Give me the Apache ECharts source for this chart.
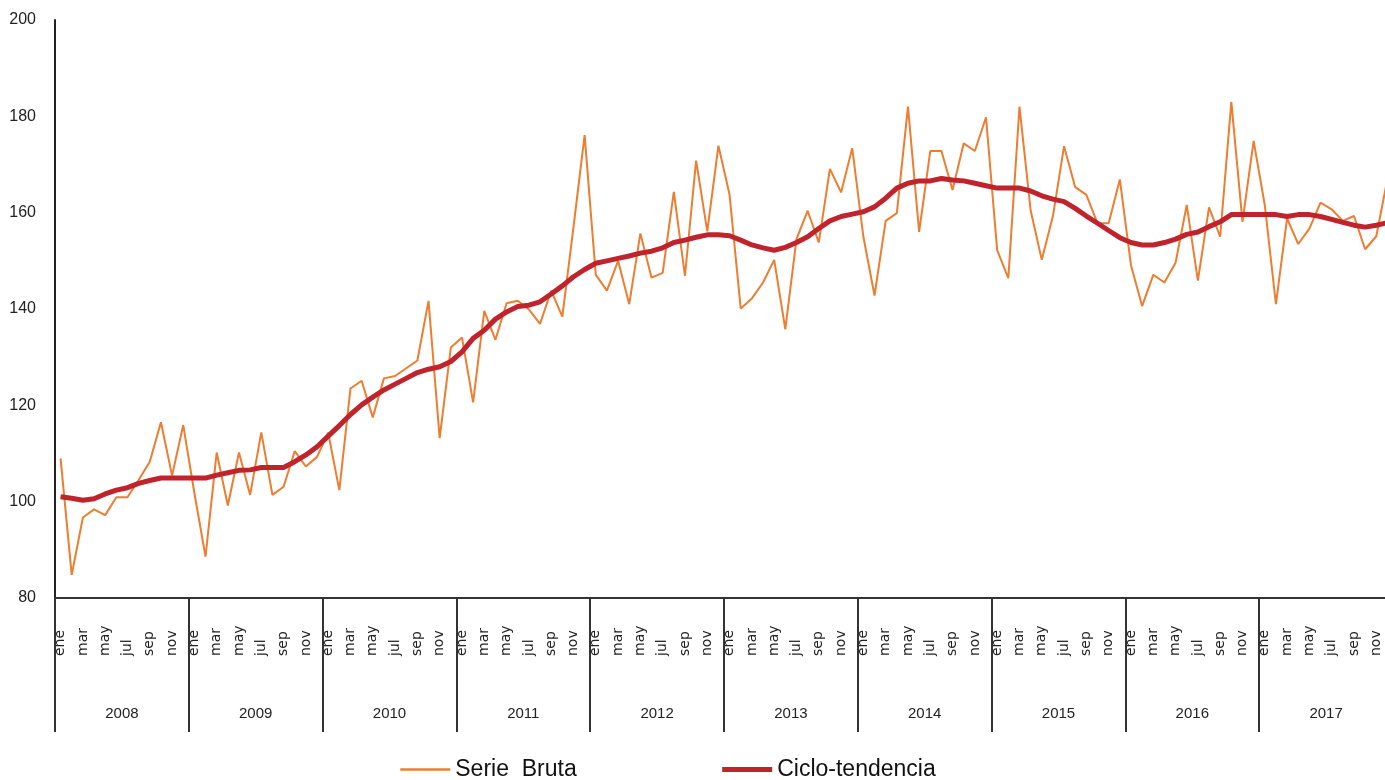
<!DOCTYPE html>
<html>
<head>
<meta charset="utf-8">
<script src="https://cdn.jsdelivr.net/npm/echarts@6/dist/echarts.min.js"></script>
<style>
html,body{margin:0;padding:0;background:#fff;}
#chart{width:1385px;height:780px;}
</style>
</head>
<body>
<div id="chart"></div>
<script>
const years = ['2008','2009','2010','2011','2012','2013','2014','2015','2016','2017'];
const monthNames = ['ene','feb','mar','abr','may','jun','jul','ago','sep','oct','nov','dic'];
const yTicks = { min: 80, max: 200, step: 20 };

const serieBruta = [
  109.0, 84.8, 96.7, 98.4, 97.2, 100.9, 100.9, 104.5, 108.3, 116.5, 105.4, 115.9,
  101.8, 88.6, 110.2, 99.2, 110.2, 101.4, 114.4, 101.4, 103.1, 110.5, 107.3, 109.3,
  114.3, 102.4, 123.5, 125.1, 117.5, 125.6, 126.1, 127.7, 129.3, 141.7, 113.2, 132.0,
  134.1, 120.6, 139.6, 133.6, 141.2, 141.7, 139.9, 136.9, 143.8, 138.4, 157.0, 176.1,
  147.1, 143.8, 150.0, 141.0, 155.7, 146.5, 147.5, 164.3, 146.9, 170.8, 156.1, 173.9,
  163.7, 140.1, 142.2, 145.5, 150.2, 135.8, 154.5, 160.4, 153.8, 169.1, 164.2, 173.4,
  155.0, 142.8, 158.3, 159.9, 182.0, 156.0, 172.8, 172.8, 164.7, 174.4, 172.8, 179.8,
  152.2, 146.4, 182.0, 160.5, 150.2, 159.3, 173.8, 165.3, 163.7, 157.8, 157.8, 166.9,
  149.1, 140.6, 147.1, 145.5, 149.6, 161.6, 145.9, 161.1, 155.0, 183.0, 158.1, 174.9,
  161.6, 141.0, 158.8, 153.5, 156.7, 162.1, 160.7, 158.3, 159.3, 152.4, 155.1, 167.0
];

const cicloTendencia = [
  101.0, 100.7, 100.3, 100.6, 101.6, 102.4, 102.9, 103.8, 104.4, 104.9, 104.9, 104.9,
  104.9, 104.9, 105.5, 106.0, 106.5, 106.6, 107.1, 107.1, 107.1, 108.3, 109.7, 111.4,
  113.6, 115.8, 118.1, 120.1, 121.7, 123.2, 124.4, 125.6, 126.8, 127.5, 128.0, 129.1,
  131.1, 133.9, 135.6, 137.9, 139.4, 140.5, 140.8, 141.5, 143.1, 144.8, 146.7, 148.2,
  149.5, 150.0, 150.5, 151.0, 151.6, 152.0, 152.7, 153.8, 154.3, 154.9, 155.4, 155.4,
  155.2, 154.3, 153.3, 152.7, 152.2, 152.8, 153.8, 155.0, 156.7, 158.3, 159.2, 159.7,
  160.2, 161.2, 163.0, 165.1, 166.1, 166.6, 166.6, 167.1, 166.8, 166.6, 166.1, 165.6,
  165.1, 165.1, 165.1, 164.5, 163.5, 162.8, 162.3, 160.9, 159.3, 157.8, 156.3, 154.8,
  153.8, 153.3, 153.3, 153.8, 154.5, 155.5, 156.0, 157.1, 158.1, 159.6, 159.6, 159.6,
  159.6, 159.6, 159.2, 159.6, 159.6, 159.2, 158.6, 158.0, 157.4, 157.0, 157.4, 157.9
];

const monthCats = [];
years.forEach(y => monthNames.forEach(m => monthCats.push(m + '|' + y)));

const font = '"Liberation Sans", Arial, sans-serif';

const chart = echarts.init(document.getElementById('chart'));
chart.setOption({
  animation: false,
  backgroundColor: '#ffffff',
  grid: { left: 55, top: 20, width: 1338, height: 578, containLabel: false, outerBoundsMode: 'none' },
  legend: {
    left: 394, top: 753,
    itemWidth: 50, itemHeight: 14, itemGap: 143,
    textStyle: { fontFamily: font, fontSize: 23, color: '#111' },
    itemStyle: { opacity: 0 },
    data: [
      { name: 'Serie  Bruta', lineStyle: { width: 2.5 } },
      { name: 'Ciclo-tendencia', lineStyle: { width: 5 } }
    ]
  },
  xAxis: [
    {
      type: 'category',
      data: monthCats,
      boundaryGap: true,
      axisLine: { show: true, lineStyle: { color: '#333', width: 2 } },
      axisTick: { show: false },
      axisLabel: {
        interval: 1,
        rotate: 90,
        align: 'left',
        verticalAlign: 'middle',
        margin: 58,
        fontFamily: '"DejaVu Sans", sans-serif',
        fontSize: 14,
        color: '#222',
        formatter: v => v.split('|')[0]
      },
      splitLine: { show: false }
    },
    {
      type: 'category',
      data: years,
      position: 'bottom',
      boundaryGap: true,
      axisLine: { show: false },
      axisTick: { show: true, interval: 0, length: 134, lineStyle: { color: '#333', width: 2 } },
      axisLabel: {
        interval: 0,
        margin: 108,
        fontFamily: font,
        fontSize: 15,
        color: '#222'
      },
      splitLine: { show: false }
    }
  ],
  yAxis: {
    type: 'value',
    min: yTicks.min, max: yTicks.max, interval: yTicks.step,
    axisLine: { show: true, lineStyle: { color: '#222', width: 2 } },
    axisTick: { show: false },
    splitLine: { show: false },
    axisLabel: { margin: 19, fontFamily: font, fontSize: 16, color: '#222' }
  },
  series: [
    {
      name: 'Serie  Bruta',
      type: 'line',
      xAxisIndex: 0,
      data: serieBruta,
      symbol: 'none',
      lineStyle: { color: '#ED7D31', width: 2 },
      itemStyle: { color: '#ED7D31' },
      z: 2
    },
    {
      name: 'Ciclo-tendencia',
      type: 'line',
      xAxisIndex: 0,
      data: cicloTendencia,
      symbol: 'none',
      lineStyle: { color: '#C0232B', width: 5 },
      itemStyle: { color: '#C0232B' },
      z: 3
    }
  ]
});
</script>
</body>
</html>
